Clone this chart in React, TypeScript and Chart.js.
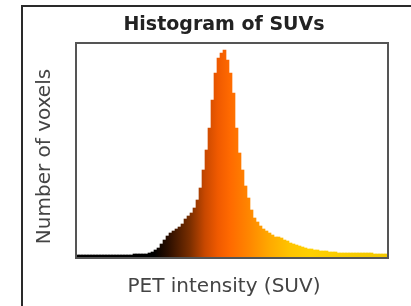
import React, { useEffect, useRef } from "react";
import { Chart, registerables } from "chart.js";

Chart.register(...registerables);

const TITLE = "Histogram of SUVs";
const X_LABEL = "PET intensity (SUV)";
const Y_LABEL = "Number of voxels";

// Histogram bin counts (relative units), left to right
const binCounts: number[] = [
  3, 3, 3, 3, 3, 3, 3, 3, 3, 3,
  3, 3, 3, 3, 3, 3, 3, 3, 3, 4,
  4, 4, 4, 4, 5, 6, 8, 10, 14, 18,
  22, 25, 27, 29, 31, 34, 39, 42, 45, 50,
  58, 70, 88, 108, 130, 158, 185, 200, 205, 208,
  198, 185, 165, 130, 105, 88, 72, 60, 48, 40,
  36, 32, 29, 27, 25, 23, 21, 21, 20, 18,
  17, 15, 14, 13, 12, 11, 10, 9, 9, 8,
  8, 7, 7, 7, 6, 6, 6, 5, 5, 5,
  5, 5, 5, 5, 5, 5, 5, 5, 5, 4,
  4, 4, 4, 4,
];
const binLabels: string[] = binCounts.map((_, i) => String(i + 1));
const Y_MAX = 215;

// colour map stops (fraction of x range, colour)
const colorStops: [number, string][] = [
  [0, "#000000"],
  [0.25, "#000000"],
  [0.295, "#2a0e00"],
  [0.365, "#7a2e00"],
  [0.413, "#c84800"],
  [0.455, "#f05a00"],
  [0.494, "#ff6a00"],
  [0.558, "#ff8800"],
  [0.622, "#ffaa00"],
  [0.686, "#ffc400"],
  [0.75, "#ffd000"],
  [1, "#f2c800"],
];

const framePlugin = {
  id: "framePlugin",
  beforeDraw(chart: any) {
    const { ctx, width, height } = chart;
    ctx.save();
    ctx.fillStyle = "#ffffff";
    ctx.fillRect(0, 0, width, height);
    ctx.strokeStyle = "#2a2a2a";
    ctx.lineWidth = 2;
    ctx.beginPath();
    ctx.moveTo(22, height + 2);
    ctx.lineTo(22, 6);
    ctx.lineTo(width + 2, 6);
    ctx.stroke();
    ctx.restore();
  },
  afterDraw(chart: any) {
    const { ctx, chartArea } = chart;
    const { left, right, top, bottom } = chartArea;
    ctx.save();
    ctx.strokeStyle = "#555555";
    ctx.lineWidth = 2;
    ctx.strokeRect(left, top, right - left, bottom - top);
    const cx = (left + right) / 2 - 8;
    ctx.textAlign = "center";
    ctx.textBaseline = "middle";
    ctx.fillStyle = "#222222";
    ctx.font = "bold 19px 'DejaVu Sans'";
    ctx.fillText(TITLE, cx, 25);
    ctx.fillStyle = "#444444";
    ctx.font = "20px 'DejaVu Sans'";
    ctx.fillText(X_LABEL, cx, 287);
    ctx.translate(45, (top + bottom) / 2 + 6);
    ctx.rotate(-Math.PI / 2);
    ctx.fillText(Y_LABEL, 0, 0);
    ctx.restore();
  },
};

export default function App() {
  const canvasRef = useRef<HTMLCanvasElement | null>(null);

  useEffect(() => {
    document.body.style.margin = "0";
    const canvas = canvasRef.current;
    if (!canvas) return;
    const chart = new Chart(canvas, {
      type: "bar",
      data: {
        labels: binLabels,
        datasets: [
          {
            data: binCounts,
            borderWidth: 0,
            categoryPercentage: 1,
            barPercentage: 1,
            backgroundColor: (c: any) => {
              const area = c.chart.chartArea;
              if (!area) return "#ff6a00";
              const g = c.chart.ctx.createLinearGradient(area.left, 0, area.right, 0);
              colorStops.forEach(([p, col]) => g.addColorStop(p, col));
              return g;
            },
          },
        ],
      },
      options: {
        responsive: false,
        animation: false,
        layout: { padding: { left: 76, top: 43, right: 23, bottom: 48 } },
        plugins: {
          legend: { display: false },
          title: { display: false },
          tooltip: { enabled: false },
        },
        scales: {
          x: { display: false },
          y: { display: false, min: 0, max: Y_MAX },
        },
      },
      plugins: [framePlugin],
    });
    return () => chart.destroy();
  }, []);

  return (
    <div style={{ position: "absolute", left: 0, top: 0, width: 411, height: 306 }}>
      <canvas ref={canvasRef} width={411} height={306} style={{ display: "block" }} />
    </div>
  );
}
